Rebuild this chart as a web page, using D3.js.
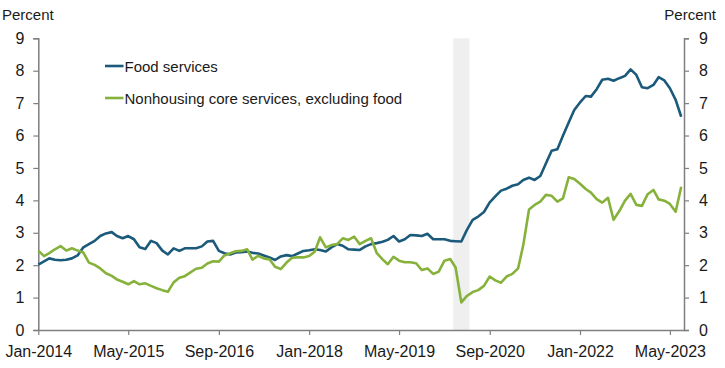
<!DOCTYPE html>
<html>
<head>
<meta charset="utf-8">
<script src="https://cdn.jsdelivr.net/npm/d3@7"></script>
<style>
  html, body { margin: 0; padding: 0; background: #fff; }
  svg { display: block; font-family: "Liberation Sans", Arial, sans-serif; }
</style>
</head>
<body>
<svg id="chart" width="725" height="368"></svg>
<script>
// ---- Data (monthly, Jan-2014 .. Jul-2023), percent ----
const startYear = 2014, startMonth = 0;
const foodServices = [
  2.02, 2.12, 2.21, 2.17, 2.15, 2.17, 2.21, 2.30, 2.55, 2.65, 2.75, 2.90,
  2.98, 3.02, 2.90, 2.83, 2.90, 2.80, 2.55, 2.50, 2.75, 2.68, 2.45, 2.33,
  2.52, 2.44, 2.52, 2.52, 2.52, 2.58, 2.73, 2.75, 2.44, 2.37, 2.33, 2.39,
  2.40, 2.42, 2.38, 2.36, 2.30, 2.24, 2.16, 2.27, 2.31, 2.28, 2.36, 2.44,
  2.46, 2.49, 2.47, 2.42, 2.55, 2.65, 2.60, 2.49, 2.48, 2.47, 2.58, 2.65,
  2.68, 2.72, 2.78, 2.90, 2.73, 2.80, 2.93, 2.92, 2.90, 2.97, 2.80, 2.80,
  2.80, 2.75, 2.74, 2.73, 3.09, 3.40, 3.50, 3.64, 3.94, 4.12, 4.30, 4.36,
  4.45, 4.50, 4.63, 4.70, 4.63, 4.75, 5.14, 5.53, 5.58, 5.99, 6.40, 6.79,
  7.02, 7.22, 7.20, 7.43, 7.72, 7.75, 7.69, 7.77, 7.84, 8.04, 7.87, 7.49,
  7.46, 7.56, 7.80, 7.70, 7.46, 7.10, 6.58
];
const nonhousingCore = [
  2.45, 2.28, 2.37, 2.49, 2.59, 2.45, 2.52, 2.45, 2.39, 2.08, 2.01, 1.90,
  1.75, 1.67, 1.56, 1.49, 1.41, 1.51, 1.41, 1.44, 1.36, 1.29, 1.23, 1.18,
  1.47, 1.61, 1.66, 1.78, 1.89, 1.92, 2.05, 2.12, 2.11, 2.30, 2.37, 2.43,
  2.44, 2.49, 2.17, 2.29, 2.21, 2.18, 1.95, 1.88, 2.08, 2.23, 2.24, 2.24,
  2.28, 2.42, 2.86, 2.55, 2.62, 2.65, 2.83, 2.78, 2.88, 2.65, 2.75, 2.83,
  2.37, 2.18, 2.03, 2.26, 2.14, 2.09, 2.09, 2.06, 1.85, 1.90, 1.73, 1.80,
  2.14, 2.19, 1.93, 0.85, 1.05, 1.17, 1.23, 1.36, 1.65, 1.53, 1.46, 1.65,
  1.73, 1.90, 2.62, 3.72, 3.86, 3.96, 4.17, 4.14, 3.96, 4.06, 4.71, 4.66,
  4.51, 4.35, 4.24, 4.04, 3.93, 4.08, 3.40, 3.67, 3.99, 4.20, 3.86, 3.83,
  4.19, 4.32, 4.03, 3.99, 3.89, 3.65, 4.42
];
const seriesNames = ["Food services", "Nonhousing core services, excluding food"];
const xTickLabels = ["Jan-2014", "May-2015", "Sep-2016", "Jan-2018", "May-2019", "Sep-2020", "Jan-2022", "May-2023"];
const yTicks = [0, 1, 2, 3, 4, 5, 6, 7, 8, 9];
const recessionStart = [2020, 1, 17], recessionEnd = [2020, 4, 15];

// ---- Layout ----
const svg = d3.select("#chart");
const mLeft = 38.3, mRight = 684, mTop = 38.3, mBottom = 330;
const colors = ["#1b5a7a", "#86b23c"];
const axisColor = "#7f7f7f";
const tickFont = 16, titleFont = 15, legendFont = 15;

const monthNames = ["Jan","Feb","Mar","Apr","May","Jun","Jul","Aug","Sep","Oct","Nov","Dec"];
const parseMonth = s => {
  const [mon, yr] = s.split("-");
  return new Date(+yr, monthNames.indexOf(mon), 1);
};
const dates = foodServices.map((_, i) => new Date(startYear, startMonth + i, 1));

const x = d3.scaleTime()
  .domain([dates[0], new Date(2023, 6, 16)])
  .range([mLeft, mRight]);
const y = d3.scaleLinear().domain([0, 9]).range([mBottom, mTop]);

// Recession band
const rs = new Date(...recessionStart), re = new Date(...recessionEnd);
svg.append("rect")
  .attr("x", x(rs))
  .attr("y", y(9))
  .attr("width", x(re) - x(rs))
  .attr("height", y(0) - y(9))
  .attr("fill", "#efefef");

// Axes
const styleAxis = g => {
  g.selectAll(".domain").attr("stroke", axisColor).attr("stroke-width", 1.5);
  g.selectAll(".tick line").attr("stroke", axisColor).attr("stroke-width", 1.2);
  g.selectAll(".tick text").attr("fill", "#1a1a1a")
    .style("font-size", tickFont + "px")
    .style("font-family", '"Liberation Sans", Arial, sans-serif');
};

const yLeft = svg.append("g")
  .attr("transform", `translate(${mLeft},0)`)
  .call(d3.axisLeft(y).tickValues(yTicks).tickSize(5).tickSizeOuter(5).tickPadding(9).tickFormat(d3.format("d")));
styleAxis(yLeft);

const yRight = svg.append("g")
  .attr("transform", `translate(${mRight},0)`)
  .call(d3.axisRight(y).tickValues(yTicks).tickSize(5).tickSizeOuter(5).tickPadding(10).tickFormat(d3.format("d")));
styleAxis(yRight);

const xAxis = svg.append("g")
  .attr("transform", `translate(0,${mBottom})`)
  .call(d3.axisBottom(x)
    .tickValues(xTickLabels.map(parseMonth))
    .tickSize(5).tickSizeOuter(0).tickPadding(8)
    .tickFormat((d, i) => xTickLabels[i]));
styleAxis(xAxis);
xAxis.selectAll(".tick text").attr("dy", "0.85em");

// Axis titles
svg.append("text").attr("x", 2).attr("y", 20).text("Percent")
  .attr("fill", "#1a1a1a").style("font-size", titleFont + "px");
svg.append("text").attr("x", 716).attr("y", 20).attr("text-anchor", "end").text("Percent")
  .attr("fill", "#1a1a1a").style("font-size", titleFont + "px");

// Lines
const line = d3.line().x((d, i) => x(dates[i])).y(d => y(d));
[foodServices, nonhousingCore].forEach((s, k) => {
  svg.append("path")
    .datum(s)
    .attr("fill", "none")
    .attr("stroke", colors[k])
    .attr("stroke-width", 2.6)
    .attr("stroke-linejoin", "round")
    .attr("d", line);
});

// Legend
const legend = svg.append("g");
seriesNames.forEach((name, k) => {
  const ly = 66 + k * 32;
  legend.append("line")
    .attr("x1", 105).attr("x2", 123.5).attr("y1", ly).attr("y2", ly)
    .attr("stroke", colors[k]).attr("stroke-width", 2.6);
  legend.append("text")
    .attr("x", 124.5).attr("y", ly + 5.5)
    .text(name)
    .attr("fill", "#1a1a1a")
    .style("font-size", legendFont + "px");
});
</script>
</body>
</html>
